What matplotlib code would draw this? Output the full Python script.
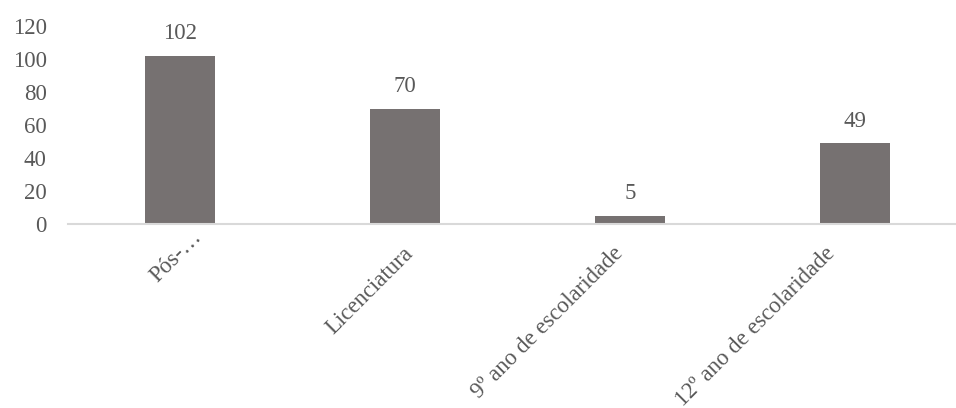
import matplotlib
matplotlib.use("Agg")
import matplotlib.pyplot as plt

categories = ["Pós-…", "Licenciatura", "9º ano de escolaridade", "12º ano de escolaridade"]
values = [102, 70, 5, 49]
yticks = [0, 20, 40, 60, 80, 100, 120]

# pixel nudges for the rotated category labels (right end of baseline, relative to tick)
label_dx = [22, 9, -6, -19]
label_dy = [-14, -30, -30, -30]

BAR = "#767171"
TEXT = "#595959"
GRID = "#D9D9D9"
FS = 16.5

plt.rcParams["font.family"] = ["Liberation Serif", "DejaVu Serif"]

fig = plt.figure(figsize=(9.56, 4.08), dpi=100)
W, H = 956, 408
ax = fig.add_axes([67.5 / W, (H - 224) / H, 900 / W, 198 / H])

x = list(range(len(categories)))
bars = ax.bar(x, values, width=0.31, color=BAR, zorder=2)

ax.set_xlim(-0.5, len(categories) - 0.5)
ax.set_ylim(0, 120)
ax.set_yticks(yticks)
ax.set_yticklabels([str(t) for t in yticks], fontsize=FS, color=TEXT)
ax.tick_params(axis="y", length=0, pad=15)
ax.set_xticks([])

for s in ["left", "right", "top"]:
    ax.spines[s].set_visible(False)
ax.spines["bottom"].set_color(GRID)
ax.spines["bottom"].set_linewidth(1.5)

for xi, v in zip(x, values):
    ax.annotate(str(v), xy=(xi, v), xytext=(0, 22), textcoords="offset pixels",
                ha="center", va="center", fontsize=FS, color=TEXT)

for xi, lab, dx, dy in zip(x, categories, label_dx, label_dy):
    ax.annotate(lab, xy=(xi, 0), xytext=(dx, dy), textcoords="offset pixels",
                ha="right", va="baseline", rotation=45, rotation_mode="anchor",
                fontsize=FS, color=TEXT, annotation_clip=False)

fig.savefig("out.png", dpi=100)
